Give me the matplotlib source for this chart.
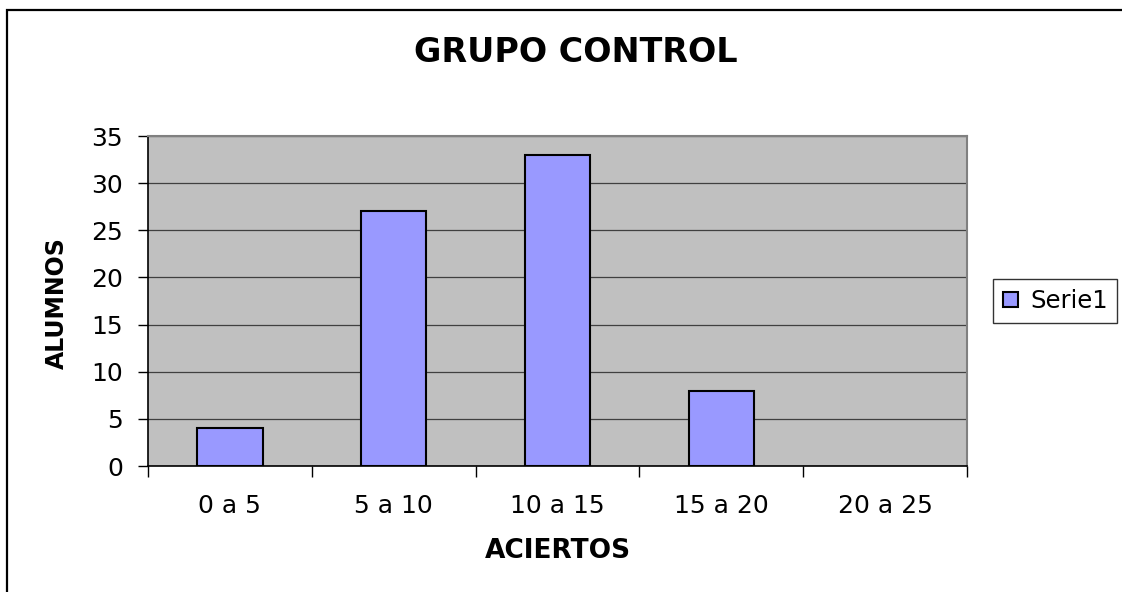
import matplotlib.pyplot as plt
from matplotlib.patches import Rectangle

categories = ["0 a 5", "5 a 10", "10 a 15", "15 a 20", "20 a 25"]
alumnos = [4, 27, 33, 8, 0]
y_ticks = [0, 5, 10, 15, 20, 25, 30, 35]

# the reference text is wide, DejaVu Sans fits its proportions
plt.rcParams["font.family"] = ["DejaVu Sans"]

W, H = 1122, 592
fig = plt.figure(figsize=(W / 100, H / 100), dpi=100)
ax = fig.add_axes([148 / W, 1 - 466 / H, (967 - 148) / W, (466 - 136) / H])

# outer chart border (right/bottom cut off by the image edge)
fig.patches.append(Rectangle((7 / W, -0.05), 1.2, 1 - 10 / H + 0.05,
                             transform=fig.transFigure, fill=False,
                             edgecolor="black", linewidth=1.6))

ax.set_facecolor("#c0c0c0")
x = list(range(len(categories)))
bars = ax.bar(x, alumnos, width=0.4, color="#9999ff", edgecolor="black",
              linewidth=1.5, zorder=3, label="Serie1")
for b, v in zip(bars, alumnos):
    if v == 0:
        b.set_visible(False)

ax.set_xlim(-0.5, len(categories) - 0.5)
ax.set_ylim(0, 35)
ax.set_yticks(y_ticks)
ax.yaxis.grid(True, color="#404040", linewidth=0.9, zorder=1)
ax.set_axisbelow(True)

ax.set_xticks([i - 0.5 for i in range(len(categories) + 1)])
ax.set_xticklabels([])
ax.set_xticks(x, minor=True)
ax.set_xticklabels(categories, minor=True)
ax.tick_params(axis="x", which="major", length=8, width=1, direction="out")
ax.tick_params(axis="x", which="minor", length=0, pad=20, labelsize=18)
ax.tick_params(axis="y", length=7, width=1, labelsize=18, pad=11)

for side in ["top", "right"]:
    ax.spines[side].set_color("#808080")
    ax.spines[side].set_linewidth(1.5)
for side in ["left", "bottom"]:
    ax.spines[side].set_color("black")
    ax.spines[side].set_linewidth(1.2)

fig.text(576 / W, 1 - 52 / H, "GRUPO CONTROL", ha="center", va="center",
         fontsize=24, fontweight="bold")
fig.text(558 / W, 1 - 551 / H, "ACIERTOS", ha="center", va="center",
         fontsize=19, fontweight="bold")
fig.text(57 / W, 1 - 303 / H, "ALUMNOS", ha="center", va="center",
         rotation=90, fontsize=17, fontweight="bold")

leg = fig.legend(loc="center left", bbox_to_anchor=(993 / W, 1 - 301 / H),
                 frameon=True, fancybox=False, edgecolor="black",
                 fontsize=17.5, handlelength=0.62, handleheight=0.62,
                 handletextpad=0.5, borderpad=0.4, borderaxespad=0)
leg.get_frame().set_linewidth(1.0)

fig.savefig("out.png", dpi=100)
